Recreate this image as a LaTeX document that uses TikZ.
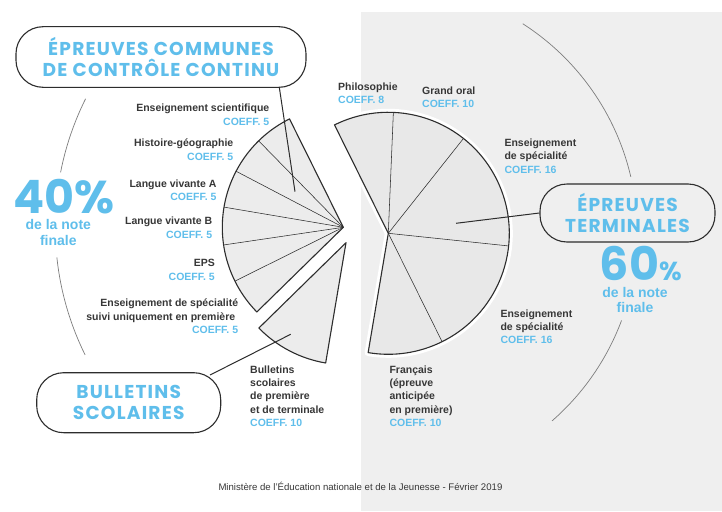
\documentclass[tikz,border=0pt]{standalone}
\usepackage{fontspec}
\setmainfont{Liberation Sans}
\newfontfamily\titlef{Poppins}[LetterSpace=6.5]
\newfontfamily\bigf{Poppins}
\definecolor{blu}{RGB}{95,190,235}
\definecolor{bgg}{RGB}{239,239,239}
\definecolor{pfl}{RGB}{236,236,236}
\definecolor{pfr}{RGB}{232,232,232}
\definecolor{lc}{RGB}{45,45,45}
\definecolor{txt}{RGB}{55,55,55}
\definecolor{arcc}{RGB}{125,125,125}
\newcommand{\cf}[1]{\textcolor{blu}{COEFF. #1}}
\tikzset{
 lab/.style={font=\bfseries\fontsize{10.5}{13.3}\selectfont, text=txt, inner sep=0pt},
 labr/.style={lab, align=right, anchor=north east},
 labl/.style={lab, align=left, anchor=north west},
 callout/.style={draw=lc, line width=1.1pt, rounded corners=27pt, inner sep=0pt,
   font=\titlef\bfseries\fontsize{18.6}{20.7}\selectfont, text=blu, align=center},
 outline/.style={draw=lc, line width=1.1pt, line join=round},
 divl/.style={draw=lc, line width=0.55pt},
 thinarc/.style={draw=arcc, line width=0.7pt},
 conn/.style={draw=lc, line width=1pt},
 big/.style={font=\bigf\bfseries\fontsize{46}{46}\selectfont, text=blu, inner sep=0pt, anchor=base west, text depth=0pt},
 sub/.style={font=\bfseries\fontsize{14}{15.6}\selectfont, text=blu, align=center, inner sep=0pt},
}
\begin{document}
\begin{tikzpicture}[x=1pt,y=-1pt]
\useasboundingbox (0,0) rectangle (722,511);
\fill[white] (0,0) rectangle (722,511);
\fill[bgg] (361,12) rectangle (722,511);

% thin arcs, left
\begin{scope}[shift={(343.3,227.3)}, y=1pt]
 \draw[thinarc] (153.5:288) arc[start angle=153.5, end angle=169, radius=288];
 \draw[thinarc] (186:288) arc[start angle=186, end angle=206.3, radius=288];
 % left pie
 \path[fill=pfl, outline] (0,0) -- (116.4:121) arc[start angle=116.4, end angle=224.4, radius=121] -- cycle;
 \foreach \a in {134.4,152.4,170.4,188.4,206.4} \draw[divl] (0,0) -- (\a:121);
\end{scope}
% bulletins sector
\begin{scope}[shift={(346,242.7)}, y=1pt]
 \path[fill=pfl, outline] (0,0) -- (224.4:122) arc[start angle=224.4, end angle=260.4, radius=122] -- cycle;
\end{scope}
% right pie
\begin{scope}[shift={(388.3,233.3)}, y=1pt]
 \draw[thinarc] (57.3:249) arc[start angle=57.3, end angle=13.1, radius=249];
 \draw[thinarc] (-20.5:249) arc[start angle=-20.5, end angle=-48.9, radius=249];
 \path[draw=white, line width=7pt, line join=round] (0,0) -- (116.4:121) arc[start angle=116.4, end angle=-99.6, radius=121] -- cycle;
 \path[fill=pfr, outline] (0,0) -- (116.4:121) arc[start angle=116.4, end angle=-99.6, radius=121] -- cycle;
 \foreach \a in {87.6,51.6,-6,-63.6} \draw[divl] (0,0) -- (\a:121);
\end{scope}

% callout boxes
\node[callout, minimum width=290pt, minimum height=60.6pt] (box1) at (161,57) {ÉPREUVES COMMUNES\\DE CONTRÔLE CONTINU};
\node[callout, minimum width=175pt, minimum height=58pt] (box2) at (627.5,213) {ÉPREUVES\\TERMINALES};
\node[callout, minimum width=184pt, minimum height=60pt] (box3) at (128.7,402.7) {BULLETINS\\SCOLAIRES};

\coordinate (c1) at (295,191.7);
\coordinate (e1) at (279.3,87.3);
\coordinate (c2) at (456,223.3);
\coordinate (c3) at (290.7,334.3);
\coordinate (e3) at (210,375);
\draw[conn] (c1) -- (e1);
\draw[conn] (c2) -- (box2.west);
\draw[conn] (c3) -- (e3);

% left labels
\node[labr] (l1) at (269.5,104) {Enseignement scientifique\\\cf{5}};
\node[labr] (l2) at (233.5,138.8) {Histoire-géographie\\\cf{5}};
\node[labr] (l3) at (216.7,179.4) {Langue vivante A\\\cf{5}};
\node[labr] (l4) at (212.3,217.1) {Langue vivante B\\\cf{5}};
\node[labr] (l5) at (215,259.4) {EPS\\\cf{5}};
\node[labr] (l6) at (238.3,298.8) {Enseignement de spécialité\\suivi uniquement en première\phantom{i}\\\cf{5}};
\node[labl] (lb) at (250,365.4) {Bulletins\\scolaires\\de première\\et de terminale\\\cf{10}};

% right labels
\node[labl] (r1) at (338,82.6) {Philosophie\\\cf{8}};
\node[labl] (r2) at (422,86.6) {Grand oral\\\cf{10}};
\node[labl] (r3) at (504.3,138.8) {Enseignement\\de spécialité\\\cf{16}};
\node[labl] (r4) at (500.3,309.4) {Enseignement\\de spécialité\\\cf{16}};
\node[labl] (r5) at (389.3,365.4) {Français\\(épreuve\\anticipée\\en première)\\\cf{10}};

% percentages
\node[big] (p40) at (13,213.3) {40\%};
\node[sub] (n40) at (58.3,232.5) {de la note\\finale};
\node[big] (p60) at (599.5,280) {60{\fontsize{26}{26}\selectfont\%}};
\node[sub] (n60) at (635,300) {de la note\\finale};

% footer
\node[anchor=base west, font=\fontsize{9.6}{11}\selectfont, text=txt, inner sep=0pt] (foot) at (218.3,490.5) {Ministère de l’Éducation nationale et de la Jeunesse - Février 2019};
\end{tikzpicture}
\end{document}
